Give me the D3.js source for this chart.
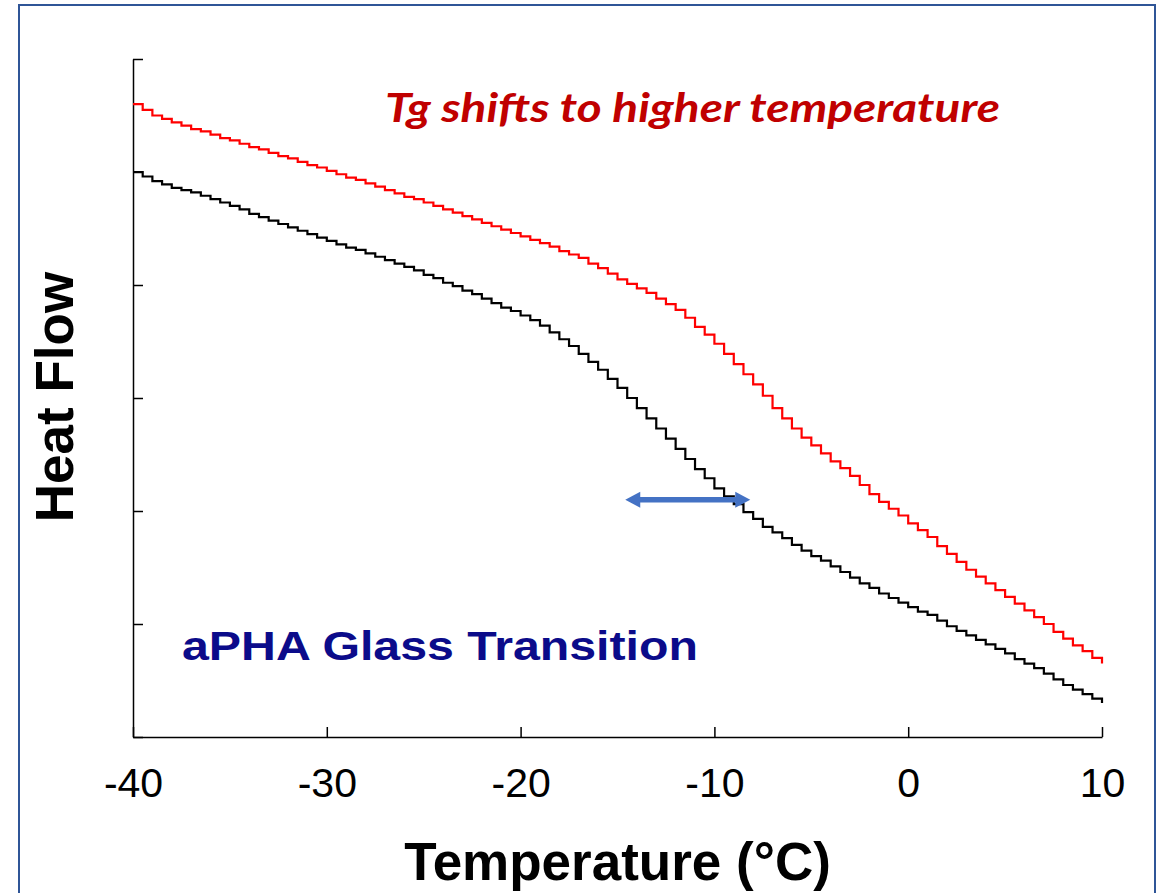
<!DOCTYPE html>
<html>
<head>
<meta charset="utf-8">
<script src="https://cdn.jsdelivr.net/npm/d3@7"></script>
<style>
  html, body { margin: 0; padding: 0; background: #fff; }
  svg { display: block; }
</style>
</head>
<body>
<svg id="chart" width="1160" height="893"></svg>
<script>
// temperature grid of the scan, every 0.5 °C
const temps = d3.range(-40, 10.001, 0.5);

// heat flow, arbitrary units
const shifted = [
  5.60, 5.55, 5.50, 5.47, 5.44, 5.41, 5.38, 5.36, 5.33, 5.30,
  5.28, 5.25, 5.22, 5.20, 5.17, 5.14, 5.12, 5.09, 5.06, 5.04,
  5.01, 4.98, 4.95, 4.93, 4.90, 4.87, 4.84, 4.81, 4.78, 4.76,
  4.73, 4.70, 4.67, 4.64, 4.61, 4.58, 4.55, 4.52, 4.49, 4.46,
  4.43, 4.40, 4.37, 4.34, 4.30, 4.27, 4.24, 4.19, 4.15, 4.10,
  4.05, 4.01, 3.97, 3.93, 3.88, 3.83, 3.78, 3.71, 3.63, 3.56,
  3.48, 3.39, 3.30, 3.21, 3.12, 3.02, 2.91, 2.82, 2.73, 2.65,
  2.58, 2.51, 2.44, 2.38, 2.31, 2.23, 2.15, 2.08, 2.02, 1.96,
  1.89, 1.83, 1.77, 1.69, 1.62, 1.55, 1.48, 1.42, 1.36, 1.30,
  1.24, 1.18, 1.12, 1.06, 1.00, 0.93, 0.87, 0.81, 0.76, 0.70,
  0.65
];
const original = [
  5.00, 4.96, 4.92, 4.89, 4.86, 4.84, 4.82, 4.79, 4.76, 4.73,
  4.70, 4.67, 4.63, 4.60, 4.57, 4.54, 4.51, 4.48, 4.45, 4.42,
  4.39, 4.36, 4.33, 4.31, 4.28, 4.25, 4.22, 4.19, 4.16, 4.13,
  4.09, 4.06, 4.02, 3.99, 3.95, 3.92, 3.88, 3.84, 3.80, 3.77,
  3.73, 3.69, 3.64, 3.58, 3.52, 3.46, 3.39, 3.32, 3.25, 3.17,
  3.09, 3.00, 2.91, 2.82, 2.73, 2.64, 2.55, 2.46, 2.37, 2.29,
  2.20, 2.13, 2.06, 1.99, 1.93, 1.86, 1.81, 1.76, 1.70, 1.65,
  1.60, 1.56, 1.51, 1.46, 1.41, 1.36, 1.32, 1.27, 1.23, 1.19,
  1.15, 1.11, 1.08, 1.03, 0.98, 0.94, 0.90, 0.86, 0.82, 0.78,
  0.74, 0.69, 0.65, 0.61, 0.56, 0.51, 0.46, 0.42, 0.38, 0.34,
  0.30
];

const xTicks = [-40, -30, -20, -10, 0, 10];
const yTicks = [0, 1, 2, 3, 4, 5, 6];

// double arrow marking the Tg shift
const shiftFrom = -14.6, shiftTo = -8.15, shiftLevel = 2.10;

const svg = d3.select("#chart");

const x = d3.scaleLinear().domain([-40, 10]).range([133, 1102]);
const y = d3.scaleLinear().domain([0, 6]).range([737, 59]);

// slide frame
svg.append("rect")
    .attr("x", 19).attr("y", 5)
    .attr("width", 1136).attr("height", 900)
    .attr("fill", "none")
    .attr("stroke", "#2f5597")
    .attr("stroke-width", 2);

// axes
const xAxis = svg.append("g")
    .attr("transform", `translate(0,${y(0)})`)
    .call(d3.axisBottom(x)
      .tickValues(xTicks)
      .tickSize(-10)
      .tickSizeOuter(0)
      .tickPadding(31)
      .tickFormat(d => String(d)));  // plain hyphen, not the unicode minus
xAxis.selectAll("text")
    .attr("font-family", "Arial, 'Liberation Sans', sans-serif")
    .attr("font-size", 41)
    .attr("fill", "#000");

const yAxis = svg.append("g")
    .attr("transform", `translate(${x(-40)},0)`)
    .call(d3.axisLeft(y).tickValues(yTicks).tickSize(-10).tickSizeOuter(0).tickFormat(""));

svg.selectAll(".domain, .tick line")
    .attr("stroke", "#000")
    .attr("stroke-width", 1.5);

// curves
const line = d3.line()
    .x((d, i) => x(temps[i]))
    .y(d => y(d))
    .curve(d3.curveStepAfter);

svg.append("path")
    .datum(shifted)
    .attr("d", line)
    .attr("fill", "none")
    .attr("stroke", "#ff0000")
    .attr("stroke-width", 2.2);

svg.append("path")
    .datum(original)
    .attr("d", line)
    .attr("fill", "none")
    .attr("stroke", "#000")
    .attr("stroke-width", 2.2);

// arrow
const ax0 = x(shiftFrom), ax1 = x(shiftTo), ay = y(shiftLevel);
const head = 15, hw = 8, sw = 2.7;
svg.append("path")
    .attr("d", `M${ax0},${ay} L${ax0 + head},${ay - hw} L${ax0 + head},${ay - sw}
                L${ax1 - head},${ay - sw} L${ax1 - head},${ay - hw} L${ax1},${ay}
                L${ax1 - head},${ay + hw} L${ax1 - head},${ay + sw}
                L${ax0 + head},${ay + sw} L${ax0 + head},${ay + hw} Z`)
    .attr("fill", "#4472c4");

// labels
svg.append("text")
    .attr("x", 385).attr("y", 122)
    .attr("font-family", "Lato, 'Open Sans', sans-serif")
    .attr("font-style", "italic")
    .attr("font-weight", "bold")
    .attr("font-size", 40)
    .attr("textLength", 615)
    .attr("lengthAdjust", "spacingAndGlyphs")
    .attr("fill", "#c00000")
    .text("Tg shifts to higher temperature");

svg.append("text")
    .attr("x", 182).attr("y", 660)
    .attr("font-family", "Arial, 'Liberation Sans', sans-serif")
    .attr("font-weight", "bold")
    .attr("font-size", 41)
    .attr("textLength", 516)
    .attr("lengthAdjust", "spacingAndGlyphs")
    .attr("fill", "#0b0b8a")
    .text("aPHA Glass Transition");

svg.append("text")
    .attr("transform", "translate(73,397) rotate(-90)")
    .attr("text-anchor", "middle")
    .attr("font-family", "Arial, 'Liberation Sans', sans-serif")
    .attr("font-weight", "bold")
    .attr("font-size", 53)
    .attr("fill", "#000")
    .text("Heat Flow");

svg.append("text")
    .attr("x", (x(-40) + x(10)) / 2).attr("y", 880)
    .attr("text-anchor", "middle")
    .attr("font-family", "Arial, 'Liberation Sans', sans-serif")
    .attr("font-weight", "bold")
    .attr("font-size", 53)
    .attr("fill", "#000")
    .text("Temperature (°C)");
</script>
</body>
</html>
